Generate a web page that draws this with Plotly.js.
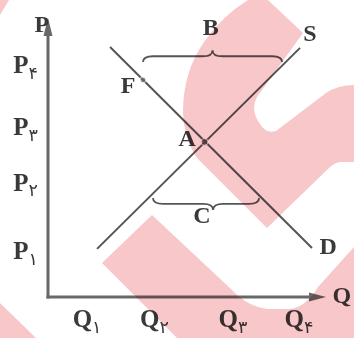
<!DOCTYPE html>
<html>
<head>
<meta charset="utf-8">
<script src="https://cdn.plot.ly/plotly-3.0.1.min.js"></script>
<style>
  html, body { margin: 0; padding: 0; background: #ffffff; }
  #chart { width: 354px; height: 338px; }
  .layer-above .shapelayer path { mix-blend-mode: multiply; }
</style>
</head>
<body>
<div id="chart"></div>
<script>
// ---- data ----
const supplyQ = [1.77, 9.10];
const supplyP = [1.73, 8.96];
const demandQ = [2.24, 9.53];
const demandP = [8.99, 1.76];

const pointNames = ['A', 'F'];
const pointQ = [5.65, 3.43];
const pointP = [5.58, 7.81];

const qTickVals = [1.41, 3.84, 6.68, 9.06];
const qTickText = ['Q۱', 'Q۲', 'Q۳', 'Q۴'];
const pTickVals = [1.58, 4.03, 6.04, 8.27];
const pTickText = ['P۱', 'P۲', 'P۳', 'P۴'];

// braces: B (surplus, opening down) and C (shortage, opening up)
const braceNames = ['B', 'C'];
const braceFrom  = [3.43, 3.79];
const braceTo    = [8.45, 7.62];
const braceTip   = [5.94, 5.96];
const braceLevel = [8.45, 3.56];
const braceDir   = [1, -1];

// letter labels
const labelText = ['P', 'Q', 'B', 'S', 'F', 'A', 'C', 'D'];
const labelQ    = [-0.22, 10.61, 5.88, 9.46, 2.89, 5.02, 5.56, 10.11];
const labelP    = [9.75, 0.0, 9.64, 9.42, 7.55, 5.65, 2.88, 1.76];

// ---- styling / geometry helpers ----
const W = 354, H = 338;
const OX = 48, OY = 297;          // pixel position of the origin
const KX = 27.7, KY = 27.8;       // pixels per unit
const FONT = 'Liberation Serif, Times New Roman, serif';
const TXT = '#3a3a3a';
const LINE = '#555555';
const AXIS = '#686868';
const PINK = 'rgb(247,199,202)';

const dx = p => (p - OX) / KX;    // pixel -> data (decoration only)
const dy = p => (OY - p) / KY;
function pathData(cmds) {
  return cmds.map(c => {
    const nums = [];
    for (let i = 1; i < c.length; i += 2) nums.push(dx(c[i]).toFixed(4) + ',' + dy(c[i + 1]).toFixed(4));
    return c[0] + nums.join(' ');
  }).join(' ') + ' Z';
}
function pathPaper(cmds) {
  return cmds.map(c => {
    const nums = [];
    for (let i = 1; i < c.length; i += 2) nums.push((c[i] / W).toFixed(5) + ',' + (1 - c[i + 1] / H).toFixed(5));
    return c[0] + nums.join(' ');
  }).join(' ') + ' Z';
}

function bracePath(x1, x2, xm, y0, s) {
  const h1 = 0.21 * s, h2 = 0.43 * s, r = 0.36;
  const yf = y0 + h1, yt = y0 + h2;
  return `M${x1},${y0} Q${x1},${yf} ${x1 + r},${yf} L${xm - r},${yf} ` +
         `Q${xm},${yf} ${xm},${yt} Q${xm},${yf} ${xm + r},${yf} ` +
         `L${x2 - r},${yf} Q${x2},${yf} ${x2},${y0}`;
}

const shapes = [];
const S = (o) => Object.assign({xref: 'x', yref: 'y'}, o);

// axes with arrowheads
shapes.push(S({type: 'line', layer: 'below', x0: 0, y0: dy(298.5), x1: 0, y1: dy(32),
  line: {color: AXIS, width: 3}}));
shapes.push(S({type: 'line', layer: 'below', x0: dx(46.5), y0: 0, x1: dx(313), y1: 0,
  line: {color: AXIS, width: 3}}));
shapes.push(S({type: 'path', layer: 'below',
  path: pathData([['M', 48, 18], ['L', 52.5, 36], ['L', 43.5, 36]]), fillcolor: AXIS, line: {width: 0}}));
shapes.push(S({type: 'path', layer: 'below',
  path: pathData([['M', 326, 297], ['L', 309, 292.5], ['L', 309, 301.5]]), fillcolor: AXIS, line: {width: 0}}));

// braces (data-referenced)
for (let i = 0; i < braceNames.length; i++) {
  shapes.push(S({type: 'path', layer: 'below',
    path: bracePath(braceFrom[i], braceTo[i], braceTip[i], braceLevel[i], braceDir[i]),
    line: {color: LINE, width: 1.8}}));
}

// pink watermark (decoration, paper-referenced, multiplied over everything)
const wm = [
  [['M', 248, 0], ['L', 268, 0], ['L', 303, 33], ['L', 257, 97],
   ['Q', 250, 110, 260, 124], ['Q', 266, 134, 276, 131], ['L', 326, 93],
   ['Q', 338, 85, 354, 85], ['L', 354, 162], ['L', 340, 162], ['Q', 334, 163, 329, 168],
   ['L', 267, 228], ['L', 198, 159], ['Q', 184, 140, 183, 112], ['Q', 183, 72, 204, 42],
   ['Q', 222, 16, 248, 0]],
  [['M', 102, 263], ['L', 152, 215], ['L', 232, 290], ['Q', 248, 307, 268, 309],
   ['L', 290, 309], ['Q', 306, 307, 318, 287], ['L', 354, 247], ['L', 354, 338],
   ['L', 177, 338]],
  [['M', 0, 303], ['L', 36, 338], ['L', 0, 338]],
  [['M', 0, 0], ['L', 9, 0], ['L', 0, 15]]
];
wm.forEach(p => shapes.push({type: 'path', xref: 'paper', yref: 'paper', layer: 'above',
  path: pathPaper(p), fillcolor: PINK, line: {width: 0}}));

// tick labels: letter with Persian subscript digit, one text each
const subLabel = s => s[0] + '<sub><span style="font-weight:normal;font-family:DejaVu Sans">' +
  s.slice(1) + '</span></sub>';
const tickFont = {family: FONT, size: 25, color: TXT, weight: 'bold'};
const qLabelY = qTickVals.map(() => dy(321));
const pLabelX = pTickVals.map(() => dx(25.5));

const txt = (x, y, t, f) => ({x, y, text: t, mode: 'text', textposition: 'middle center',
  textfont: f, cliponaxis: false, hoverinfo: 'skip'});

const traces = [
  {x: supplyQ, y: supplyP, mode: 'lines', line: {color: LINE, width: 2}, cliponaxis: false, hoverinfo: 'skip'},
  {x: demandQ, y: demandP, mode: 'lines', line: {color: LINE, width: 2}, cliponaxis: false, hoverinfo: 'skip'},
  {x: pointQ, y: pointP, text: pointNames, mode: 'markers', cliponaxis: false, hoverinfo: 'skip',
   marker: {color: ['#4a4a4a', '#666666'], size: [7, 6]}},
  txt(labelQ, labelP, labelText, {family: FONT, size: 24, color: TXT, weight: 'bold'}),
  txt(qTickVals, qLabelY, qTickText.map(subLabel), tickFont),
  txt(pLabelX, pTickVals, pTickText.map(subLabel), tickFont)
];

const layout = {
  width: W, height: H,
  margin: {l: 0, r: 0, t: 0, b: 0, pad: 0},
  paper_bgcolor: '#ffffff', plot_bgcolor: '#ffffff',
  showlegend: false,
  xaxis: {range: [dx(0), dx(W)], visible: false, fixedrange: true},
  yaxis: {range: [dy(H), dy(0)], visible: false, fixedrange: true},
  shapes: shapes
};

Plotly.newPlot('chart', traces, layout, {staticPlot: true, displayModeBar: false});
</script>
</body>
</html>
